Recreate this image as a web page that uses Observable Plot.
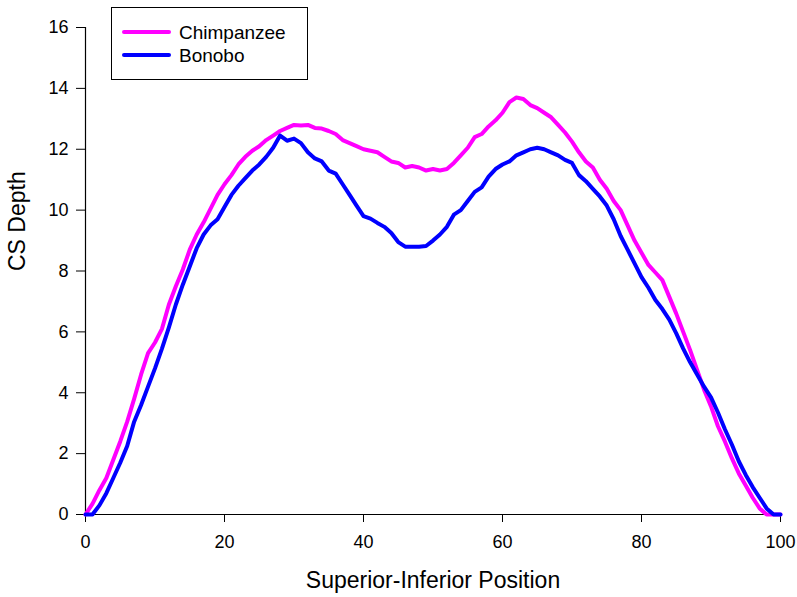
<!DOCTYPE html>
<html>
<head>
<meta charset="utf-8">
<script src="https://cdn.jsdelivr.net/npm/d3@7"></script>
<script src="https://cdn.jsdelivr.net/npm/@observablehq/plot@0.6"></script>
<style>
  html, body { margin: 0; padding: 0; background: #fff; }
  #chart { position: relative; width: 797px; height: 597px; }
</style>
</head>
<body>
<div id="chart"></div>
<script>
const positions = d3.range(0, 101);

const chimpanzee = [
  0, 0.35, 0.8, 1.2, 1.8, 2.4, 3.05, 3.8, 4.6, 5.3,
  5.65, 6.1, 6.9, 7.5, 8.05, 8.7, 9.2, 9.6, 10.05, 10.5,
  10.85, 11.15, 11.5, 11.75, 11.95, 12.1, 12.3, 12.45, 12.6, 12.7,
  12.8, 12.78, 12.8, 12.7, 12.68, 12.6, 12.5, 12.3, 12.2, 12.1,
  12.0, 11.95, 11.9, 11.75, 11.6, 11.55, 11.4, 11.45, 11.4, 11.3,
  11.35, 11.3, 11.35, 11.55, 11.8, 12.05, 12.4, 12.5, 12.75, 12.95,
  13.2, 13.55, 13.7, 13.65, 13.45, 13.35, 13.2, 13.05, 12.8, 12.55,
  12.25, 11.9, 11.6, 11.4, 11.0, 10.7, 10.3, 10.0, 9.5, 9.0,
  8.6, 8.2, 7.95, 7.7, 7.15, 6.6, 6.0, 5.4, 4.75, 4.1,
  3.55, 2.9, 2.4, 1.85, 1.35, 0.95, 0.55, 0.2, 0, 0,
  0
];

const bonobo = [
  0, 0, 0.3, 0.7, 1.2, 1.7, 2.25, 3.05, 3.6, 4.2,
  4.8, 5.45, 6.15, 6.9, 7.55, 8.15, 8.75, 9.2, 9.5, 9.7,
  10.1, 10.5, 10.8, 11.05, 11.3, 11.5, 11.75, 12.05, 12.45, 12.28,
  12.35, 12.2, 11.9, 11.7, 11.6, 11.3, 11.2, 10.85, 10.5, 10.15,
  9.8, 9.72, 9.58, 9.45, 9.25, 8.95, 8.8, 8.8, 8.8, 8.82,
  9.0, 9.2, 9.45, 9.85, 10.0, 10.3, 10.6, 10.75, 11.1, 11.35,
  11.5, 11.6, 11.8, 11.9, 12.0, 12.05, 12.0, 11.9, 11.8, 11.65,
  11.55, 11.15, 10.95, 10.7, 10.45, 10.15, 9.7, 9.15, 8.7, 8.25,
  7.8, 7.45, 7.05, 6.75, 6.4, 5.95, 5.45, 5.0, 4.6, 4.2,
  3.85, 3.35, 2.8, 2.3, 1.75, 1.3, 0.9, 0.55, 0.2, 0,
  0
];

const seriesNames = ["Chimpanzee", "Bonobo"];
const seriesColors = ["#ff00ff", "#0000ff"];
const xTicks = [0, 20, 40, 60, 80, 100];
const yTicks = [0, 2, 4, 6, 8, 10, 12, 14, 16];
const xLabel = "Superior-Inferior Position";
const yLabel = "CS Depth";

const rows = [];
[chimpanzee, bonobo].forEach((vals, i) => {
  vals.forEach((v, j) => rows.push({series: seriesNames[i], x: positions[j], y: v}));
});

const font = "'Liberation Sans', Arial, sans-serif";

const plot = Plot.plot({
  width: 797,
  height: 597,
  marginLeft: 85,
  marginRight: 17,
  marginTop: 27,
  marginBottom: 83,
  style: {fontFamily: font, background: "#fff", color: "#000", overflow: "visible"},
  x: {domain: [0, 100]},
  y: {domain: [0, 16]},
  color: {domain: seriesNames, range: seriesColors},
  marks: [
    Plot.axisX({ticks: xTicks, tickSize: 8, tickPadding: 13, fontSize: 18, label: null, stroke: "#000", strokeOpacity: 1}),
    Plot.axisY({ticks: yTicks, tickSize: 9, tickPadding: 8, fontSize: 18, label: null, stroke: "#000", strokeOpacity: 1}),
    Plot.ruleY([0], {stroke: "#000", strokeWidth: 1.2}),
    Plot.ruleX([0], {stroke: "#000", strokeWidth: 1.2}),
    Plot.line(rows, {x: "x", y: "y", z: "series", stroke: "series", strokeWidth: 4, strokeLinejoin: "round", strokeLinecap: "round"}),
    Plot.text([xLabel], {frameAnchor: "bottom", dy: 73, fontSize: 23, text: d => d, lineAnchor: "bottom"}),
    Plot.text([yLabel], {frameAnchor: "left", dx: -68, rotate: -90, fontSize: 23, text: d => d})
  ]
});

document.getElementById("chart").appendChild(plot);

// Legend box (drawn inside the SVG)
const svg = d3.select(plot);
const lg = svg.append("g").attr("font-family", font).attr("text-anchor", "start");
lg.append("rect")
  .attr("x", 111.5).attr("y", 7.5).attr("width", 196).attr("height", 72)
  .attr("fill", "#fff").attr("stroke", "#000").attr("stroke-width", 1);
seriesNames.forEach((name, i) => {
  const cy = 32 + i * 23;
  lg.append("line")
    .attr("x1", 124).attr("x2", 169).attr("y1", cy).attr("y2", cy)
    .attr("stroke", seriesColors[i]).attr("stroke-width", 4).attr("stroke-linecap", "round");
  lg.append("text")
    .attr("x", 179).attr("y", cy).attr("dy", "0.35em")
    .attr("text-anchor", "start")
    .attr("font-size", 19).attr("fill", "#000").text(name);
});
</script>
</body>
</html>
